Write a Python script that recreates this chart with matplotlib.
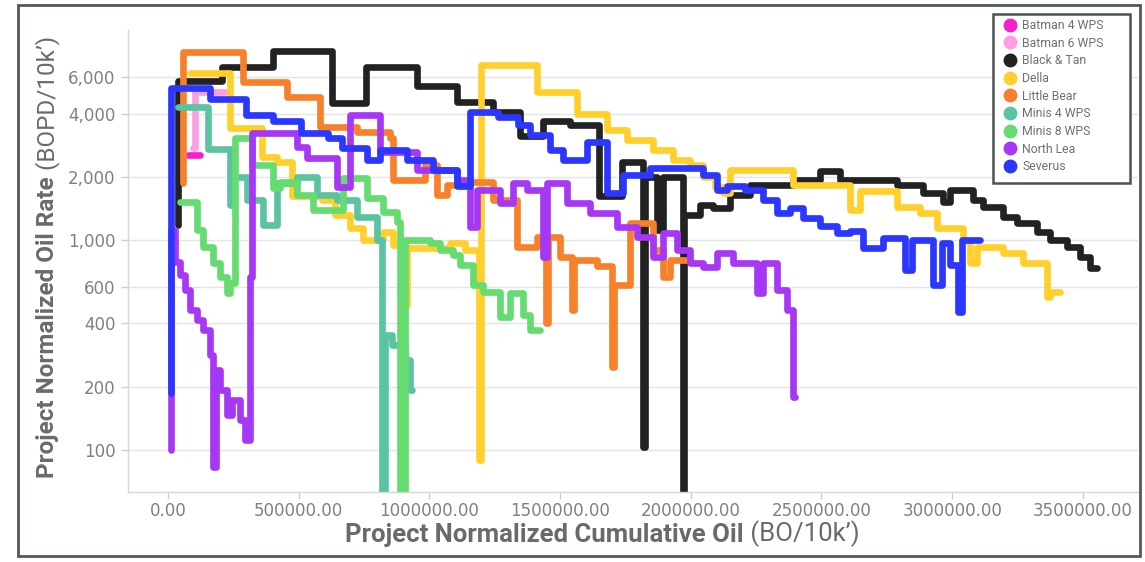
import matplotlib
matplotlib.use("Agg")
import matplotlib.pyplot as plt
from matplotlib.lines import Line2D
from matplotlib.patches import Rectangle
from matplotlib.ticker import FixedLocator, NullLocator, FuncFormatter

plt.rcParams['font.family'] = ['Roboto', 'DejaVu Sans']

# each series: cumulative oil where a rate step starts (BO/10k') and the rate held (BOPD/10k')
names = ['Batman 4 WPS', 'Batman 6 WPS', 'Black & Tan', 'Della', 'Little Bear',
         'Minis 4 WPS', 'Minis 8 WPS', 'North Lea', 'Severus']
colors = ['#f51fcb', '#fb9ee3', '#222222', '#ffd02b', '#f7812b',
          '#5bc3a2', '#65dc70', '#a637f5', '#2b36ff']

batman4_cum = [77000, 122000]
batman4_rate = [2540, 2540]

batman6_cum = [96000, 103000, 218000]
batman6_rate = [2740, 5070, 5070]

black_cum = [38000, 38000, 207000, 402000, 627000, 758000, 953000, 1106000, 1244000, 1347000,
             1435000, 1538000, 1649000, 1737000, 1817000, 1823000, 1871000, 1894000, 1970000, 1976000,
             2035000, 2085000, 2150000, 2227000, 2391000, 2495000, 2571000, 2789000, 2889000, 2965000,
             2992000, 3080000, 3118000, 3195000, 3248000, 3325000, 3375000, 3440000, 3489000, 3528000,
             3554000]
black_rate = [1180, 5720, 6660, 7940, 4490, 6660, 5410, 4540, 4070, 3130,
              3690, 3530, 1620, 2350, 103, 2000, 1116, 2000, 50, 1320,
              1470, 1420, 1640, 1830, 1930, 2130, 1930, 1830, 1670, 1520,
              1730, 1550, 1435, 1287, 1205, 1092, 1000, 926, 830, 736,
              736]

della_cum = [84000, 237000, 360000, 417000, 474000, 589000, 639000, 696000, 746000, 823000,
             861000, 911000, 916000, 1079000, 1136000, 1188000, 1196000, 1412000, 1565000, 1680000,
             1756000, 1856000, 1932000, 1997000, 2047000, 2093000, 2123000, 2150000, 2391000, 2609000,
             2648000, 2789000, 2877000, 2942000, 3042000, 3069000, 3095000, 3195000, 3271000, 3363000,
             3375000, 3413000]
della_rate = [6240, 3410, 2490, 2350, 1620, 1550, 1320, 1140, 1000, 1092,
              947, 490, 916, 968, 896, 89.6, 6810, 5070, 3980, 3340,
              2990, 2680, 2400, 2280, 2000, 1790, 1670, 2150, 1830, 1390,
              1710, 1435, 1345, 1140, 1000, 777, 926, 867, 777, 535,
              565, 565]

bear_cum = [57000, 57000, 287000, 455000, 582000, 723000, 849000, 861000, 983000, 1029000,
            1068000, 1144000, 1244000, 1335000, 1412000, 1446000, 1452000, 1500000, 1546000, 1552000,
            1641000, 1699000, 1705000, 1768000, 1856000, 1894000, 1921000, 1997000]
bear_rate = [1870, 7860, 5650, 4800, 3450, 3270, 3060, 1930, 2280, 1640,
             1830, 1890, 1550, 926, 1033, 403, 1033, 830, 464, 803,
             752, 248, 610, 1205, 896, 667, 803, 803]

minis4_cum = [38000, 153000, 237000, 253000, 302000, 363000, 417000, 494000, 570000, 647000,
              723000, 800000, 819000, 830000, 857000, 907000, 926000, 934000]
minis4_rate = [4300, 2710, 1470, 2000, 1550, 1180, 1870, 2000, 1640, 1550,
               1287, 1000, 50, 353, 316, 268, 193, 193]

minis8_cum = [46000, 111000, 134000, 172000, 199000, 226000, 237000, 256000, 321000, 402000,
              429000, 494000, 555000, 670000, 761000, 823000, 876000, 888000, 907000, 1002000,
              1041000, 1090000, 1117000, 1167000, 1205000, 1270000, 1309000, 1358000, 1385000, 1423000]
minis8_rate = [1520, 1116, 926, 777, 667, 559, 624, 3060, 2280, 1770,
               1890, 1640, 1390, 1970, 1585, 1360, 1218, 50, 1000, 968,
               896, 848, 760, 610, 565, 430, 559, 439, 373, 373]

northlea_cum = [10000, 10000, 27000, 46000, 65000, 84000, 111000, 134000, 161000, 172000,
                184000, 199000, 226000, 245000, 276000, 295000, 314000, 321000, 494000, 532000,
                647000, 696000, 811000, 953000, 1106000, 1155000, 1182000, 1270000, 1320000, 1374000,
                1435000, 1450000, 1527000, 1615000, 1718000, 1794000, 1856000, 1894000, 1947000, 1997000,
                2047000, 2100000, 2162000, 2254000, 2277000, 2330000, 2368000, 2391000, 2399000]
northlea_rate = [100, 1116, 786, 681, 578, 464, 416, 373, 283, 83,
                 240, 193, 147, 173, 139, 111, 667, 3230, 2770, 2460,
                 1790, 3940, 2620, 2150, 1930, 1153, 1730, 1500, 1870, 1730,
                 830, 1870, 1500, 1345, 1153, 1033, 830, 1080, 896, 777,
                 744, 867, 777, 559, 777, 578, 464, 179, 179]

severus_cum = [10000, 10000, 161000, 298000, 402000, 509000, 612000, 666000, 761000, 811000,
               914000, 1014000, 1106000, 1155000, 1263000, 1339000, 1385000, 1462000, 1511000, 1603000,
               1680000, 1741000, 1844000, 2047000, 2100000, 2139000, 2208000, 2277000, 2330000, 2380000,
               2430000, 2495000, 2560000, 2609000, 2659000, 2736000, 2820000, 2847000, 2927000, 2961000,
               2992000, 3023000, 3038000, 3107000]
severus_rate = [187, 5290, 4690, 3940, 3690, 3230, 3060, 2740, 2400, 2680,
                2400, 2150, 1810, 4070, 3850, 3530, 3160, 2680, 2400, 2930,
                1670, 2040, 2200, 2040, 1730, 1810, 1730, 1550, 1345, 1420,
                1273, 1166, 1080, 1100, 916, 1022, 720, 1000, 610, 968,
                760, 454, 1000, 1000]

all_cum = [batman4_cum, batman6_cum, black_cum, della_cum, bear_cum,
           minis4_cum, minis8_cum, northlea_cum, severus_cum]
all_rate = [batman4_rate, batman6_rate, black_rate, della_rate, bear_rate,
            minis4_rate, minis8_rate, northlea_rate, severus_rate]

y_ticks = [100, 200, 400, 600, 1000, 2000, 4000, 6000]
x_ticks = [0, 500000, 1000000, 1500000, 2000000, 2500000, 3000000, 3500000]

W, H = 1145, 562
fig = plt.figure(figsize=(W / 100, H / 100), dpi=100)
ax = fig.add_axes([128 / W, 1 - 492 / H, (1138 - 128) / W, (492 - 30) / H])

for cum, rate, c in zip(all_cum, all_rate, colors):
    ax.plot(cum, rate, drawstyle='steps-post', color=c, lw=4.8,
            solid_capstyle='round', solid_joinstyle='round')

ax.set_yscale('log')
ax.set_ylim(63, 10000)
ax.set_xlim(-153000, 3711000)
ax.yaxis.set_major_locator(FixedLocator(y_ticks))
ax.yaxis.set_minor_locator(NullLocator())
ax.yaxis.set_major_formatter(FuncFormatter(lambda v, p: f'{v:,.0f}'))
ax.xaxis.set_major_locator(FixedLocator(x_ticks))
ax.xaxis.set_major_formatter(FuncFormatter(lambda v, p: f'{v:.2f}'))

ax.grid(axis='y', color='#e4e4e4', lw=1)
ax.set_axisbelow(True)
for s in ['top', 'right']:
    ax.spines[s].set_visible(False)
for s in ['left', 'bottom']:
    ax.spines[s].set_color('#d6d6d6')
    ax.spines[s].set_linewidth(1)
ax.tick_params(axis='both', color='#cfcfcf', length=5, width=1, labelcolor='#808080')
for lab in ax.get_xticklabels() + ax.get_yticklabels():
    lab.set_fontfamily('DejaVu Sans')
    lab.set_fontsize(12)
ax.tick_params(axis='x', pad=2)
ax.tick_params(axis='y', pad=4)

lab_color = '#6a6a6a'
t1 = fig.text(48 / W, 1 - 478 / H, 'Project Normalized Oil Rate', rotation=90,
              ha='center', va='bottom', fontsize=17.5, fontweight='bold', color=lab_color)
ax.annotate(' (BOPD/10k\u2019)', xy=(0.5, 1), xycoords=t1, rotation=90,
            ha='center', va='bottom', fontsize=17.5, color=lab_color, annotation_clip=False)

t3 = fig.text(345 / W, 1 - 547 / H, 'Project Normalized Cumulative Oil',
              ha='left', va='bottom', fontsize=18.5, fontweight='bold', color=lab_color)
ax.annotate(' (BO/10k\u2019)', xy=(1, 0), xycoords=t3,
            ha='left', va='bottom', fontsize=18.5, color=lab_color, annotation_clip=False)

handles = [Line2D([], [], marker='o', ls='none', color=c, markersize=9) for c in colors]
leg = fig.legend(handles, names, loc='upper left', bbox_to_anchor=(1004 / W, 1 - 19 / H),
                 frameon=False, fontsize=8.8, labelcolor='#707070', handlelength=1.0,
                 handletextpad=0.5, labelspacing=0.38, borderpad=0, borderaxespad=0)
fig.patches.append(Rectangle((993 / W, 1 - 183 / H), (1130 - 993) / W, (183 - 14) / H,
                             transform=fig.transFigure, fc='white', ec='#4b5353', lw=1.8,
                             zorder=0))

# outer frame of the screenshot
fig.patches.append(Rectangle((18 / W, 6 / H), (1140 - 18) / W, (557 - 6) / H,
                             transform=fig.transFigure, fill=False, ec='#50595a', lw=2))

fig.savefig('out.png', dpi=100)
